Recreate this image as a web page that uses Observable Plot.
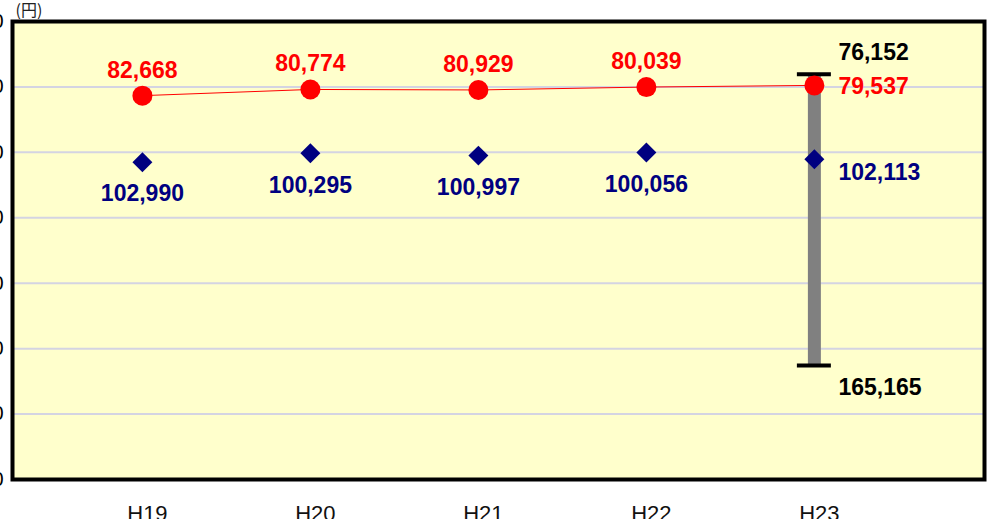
<!DOCTYPE html>
<html>
<head>
<meta charset="utf-8">
<script src="https://cdn.jsdelivr.net/npm/d3@7"></script>
<script src="https://cdn.jsdelivr.net/npm/@observablehq/plot@0.6"></script>
<style>
  html, body { margin: 0; padding: 0; background: #fff; }
  #chart svg { display: block; }
</style>
</head>
<body>
<div id="chart"></div>
<script>
const years = ["H19", "H20", "H21", "H22", "H23"];
const redValues = [82668, 80774, 80929, 80039, 79537];
const blueValues = [102990, 100295, 100997, 100056, 102113];
const rangeYear = "H23";
const rangeLow = 76152;
const rangeHigh = 165165;
const yTicks = [60000, 80000, 100000, 120000, 140000, 160000, 180000, 200000];
const unitLabel = "(円)";

const fmt = d3.format(",");
const data = years.map((year, i) => ({year, red: redValues[i], blue: blueValues[i]}));
const lastYear = years[years.length - 1];
const mainData = data.filter(d => d.year !== lastYear);
const lastData = data.filter(d => d.year === lastYear);
const caps = [{year: rangeYear, v: rangeLow}, {year: rangeYear, v: rangeHigh}];
const valueFont = {fontSize: 23, fontWeight: "bold"};

const chart = Plot.plot({
  width: 988,
  height: 519,
  marginLeft: 12,
  marginRight: 4,
  marginTop: 21,
  marginBottom: 40,
  style: {fontFamily: "'Liberation Sans', Arial, sans-serif", background: "#fff", overflow: "visible"},
  x: {type: "point", domain: years, padding: 0.893, align: 0.433, round: false, label: null},
  y: {domain: [60000, 200000], reverse: true, label: null},
  marks: [
    Plot.frame({fill: "#ffffcc"}),
    Plot.gridY(yTicks.slice(1, -1), {stroke: "#d4d4e2", strokeOpacity: 1, strokeWidth: 2}),
    Plot.axisY(yTicks, {tickSize: 0, tickPadding: 9, tickFormat: fmt, fontSize: 20, fill: "#000", label: null}),
    Plot.axisX({tickSize: 0, tickPadding: 26, fontSize: 22, dx: 5, fill: "#111", label: null}),
    Plot.text([unitLabel], {frameAnchor: "top-left", dx: 3, dy: -11, textAnchor: "start", lineAnchor: "middle", fontSize: 16, fontFamily: "'Noto Sans CJK JP', sans-serif", fill: "#222"}),
    Plot.ruleX([{year: rangeYear}], {x: "year", y1: () => rangeLow, y2: () => rangeHigh, stroke: "#808080", strokeWidth: 13}),
    Plot.ruleY(caps, {y: "v", x1: "year", x2: "year", insetLeft: -17, insetRight: -17, stroke: "#000", strokeWidth: 4}),
    Plot.line(data, {x: "year", y: "red", stroke: "#ff0000", strokeWidth: 1}),
    Plot.dot(data, {x: "year", y: "red", r: 10, fill: "#ff0000"}),
    Plot.dot(data, {x: "year", y: "blue", r: 9, symbol: "diamond2", fill: "#000080"}),
    Plot.text(mainData, {x: "year", y: "red", text: d => fmt(d.red), lineAnchor: "bottom", dy: -18, fill: "#ff0000", ...valueFont}),
    Plot.text(mainData, {x: "year", y: "blue", text: d => fmt(d.blue), lineAnchor: "top", dy: 23, fill: "#000080", ...valueFont}),
    Plot.text(lastData, {x: "year", y: "red", text: d => fmt(d.red), textAnchor: "start", lineAnchor: "middle", dx: 24, dy: 1, fill: "#ff0000", ...valueFont}),
    Plot.text(lastData, {x: "year", y: "blue", text: d => fmt(d.blue), textAnchor: "start", lineAnchor: "middle", dx: 24, dy: 13, fill: "#000080", ...valueFont}),
    Plot.text(caps.filter(d => d.v === rangeLow), {x: "year", y: "v", text: d => fmt(d.v), textAnchor: "start", lineAnchor: "middle", dx: 24, dy: -22, fill: "#000", ...valueFont}),
    Plot.text(caps.filter(d => d.v === rangeHigh), {x: "year", y: "v", text: d => fmt(d.v), textAnchor: "start", lineAnchor: "middle", dx: 24, dy: 22, fill: "#000", ...valueFont}),
    Plot.frame({stroke: "#000", strokeWidth: 4})
  ]
});
document.getElementById("chart").appendChild(chart);
</script>
</body>
</html>
